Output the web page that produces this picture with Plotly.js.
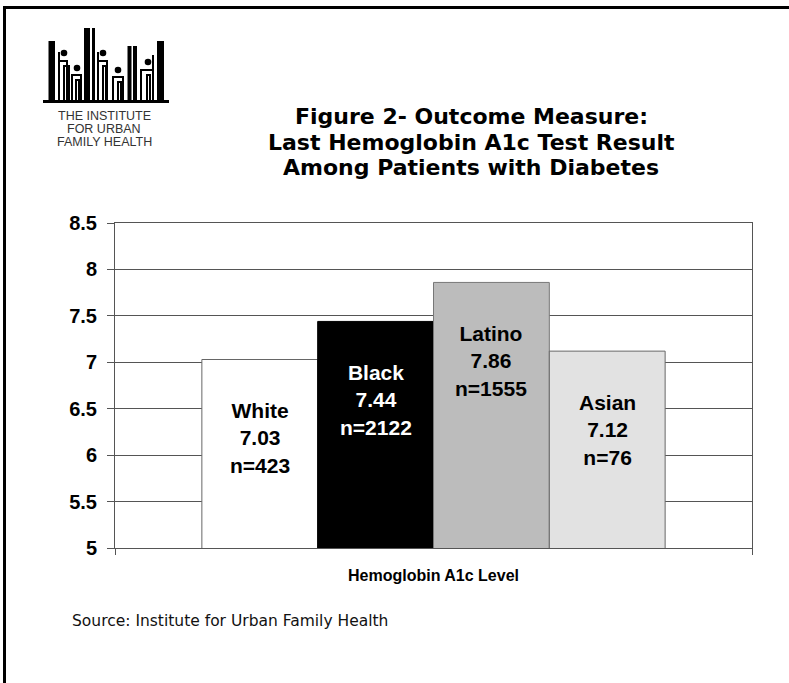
<!DOCTYPE html>
<html>
<head>
<meta charset="utf-8">
<script src="https://cdn.plot.ly/plotly-3.0.1.min.js"></script>
<style>
html,body{margin:0;padding:0;background:#fff;overflow:hidden;width:789px;height:683px;}
#wrap{position:relative;width:789px;height:683px;overflow:hidden;}
#chart{position:absolute;left:0;top:0;width:789px;height:683px;}
#bt{position:absolute;left:3px;top:6px;width:800px;height:3px;background:#000;z-index:5;}
#bl{position:absolute;left:3px;top:6px;width:3px;height:700px;background:#000;z-index:5;}
</style>
</head>
<body>
<div id="wrap">
<div id="chart"></div>
<div id="bt"></div>
<div id="bl"></div>
</div>
<script>
// ---- data ----
const categories = ['White', 'Black', 'Latino', 'Asian'];
const a1cValues = [7.03, 7.44, 7.86, 7.12];
const sampleSizes = [423, 2122, 1555, 76];
const titleLines = ['Figure 2- Outcome Measure:', 'Last Hemoglobin A1c Test Result', 'Among Patients with Diabetes'];
const xAxisTitle = 'Hemoglobin A1c Level';
const sourceText = 'Source: Institute for Urban Family Health';
const logoLines = ['THE INSTITUTE', 'FOR URBAN', 'FAMILY HEALTH'];

// ---- styles ----
const barColors = ['#ffffff', '#000000', '#bcbcbc', '#e2e2e2'];
const barLineColors = ['#666666', '#000000', '#777777', '#666666'];
const labelColors = ['#000000', '#ffffff', '#000000', '#000000'];

// plot area in pixels
const PL = 115, PR = 752, PT = 223, PB = 548;
const X = px => (px - PL) / (PR - PL);
const Y = py => (PB - py) / (PB - PT);

const trace = {
  type: 'bar',
  x: categories,
  y: a1cValues,
  marker: { color: barColors, line: { color: barLineColors, width: 1 } },
  hoverinfo: 'x+y'
};

const annotations = [];
const titleY = [116, 142, 167];
titleLines.forEach((t, i) => annotations.push({
  xref: 'paper', yref: 'paper', x: X(471), y: Y(titleY[i]),
  xanchor: 'center', yanchor: 'middle', showarrow: false, text: t,
  font: { family: 'DejaVu Sans', size: 22, weight: 'bold', color: '#000' }
}));
annotations.push({
  xref: 'paper', yref: 'paper', x: X(70), y: Y(621), xanchor: 'left', yanchor: 'middle',
  showarrow: false, text: sourceText, font: { family: 'DejaVu Sans', size: 15.5, color: '#111' }
});
const logoY = [116, 129, 142];
logoLines.forEach((t, i) => annotations.push({
  xref: 'paper', yref: 'paper', x: X(104), y: Y(logoY[i]), xanchor: 'center', yanchor: 'middle',
  showarrow: false, text: t, font: { family: 'Liberation Sans, Arial', size: 12.5, color: '#333' }
}));
categories.forEach((c, i) => annotations.push({
  xref: 'x', yref: 'y', x: c, y: a1cValues[i] - 0.85, xanchor: 'center', yanchor: 'middle',
  showarrow: false,
  text: c + '<br>' + a1cValues[i].toFixed(2) + '<br>n=' + sampleSizes[i],
  font: { family: 'Liberation Sans, Arial', size: 21, weight: 'bold', color: labelColors[i] }
}));

// shapes: logo drawing
const shapes = [];
function rect(x0, y0, x1, y1) {
  shapes.push({ type: 'rect', xref: 'paper', yref: 'paper', x0: X(x0), x1: X(x1), y0: Y(y0), y1: Y(y1),
    fillcolor: '#000', line: { width: 0 } });
}
function arch(x0, x1, top) {
  shapes.push({ type: 'path', xref: 'paper', yref: 'paper',
    path: `M ${X(x0)},${Y(100)} L ${X(x0)},${Y(top)} L ${X(x1)},${Y(top)} L ${X(x1)},${Y(100)}`,
    line: { color: '#000', width: 2 } });
}
function vline(x, top) {
  shapes.push({ type: 'line', xref: 'paper', yref: 'paper', x0: X(x), x1: X(x), y0: Y(top), y1: Y(100),
    line: { color: '#000', width: 2 } });
}
function dot(cx, cy, r) {
  shapes.push({ type: 'circle', xref: 'paper', yref: 'paper', x0: X(cx - r), x1: X(cx + r), y0: Y(cy + r), y1: Y(cy - r),
    fillcolor: '#000', line: { width: 0 } });
}
rect(43, 100, 169, 103);
rect(48.5, 41, 55, 100);
rect(84, 28, 90, 100);
rect(92, 28, 95, 100);
rect(127.5, 46, 131.5, 100);
rect(133, 46, 137, 100);
rect(157, 41, 164, 100);
vline(59, 52); arch(59, 67, 61); arch(64, 69, 66); dot(64, 53, 3.3);
arch(72, 81, 75); arch(76, 79, 80); dot(77, 68, 3.3);
vline(98, 52); arch(98, 107, 61); arch(103, 106, 66); dot(103, 53, 3.3);
arch(113, 123, 77); arch(118, 121, 82); dot(118, 70, 3.3);
arch(141, 153, 70); arch(147, 150, 75); dot(148, 62, 3.3);
vline(153, 55);

const layout = {
  width: 789, height: 683,
  margin: { l: PL, r: 789 - PR, t: PT, b: 683 - PB, pad: 0 },
  paper_bgcolor: '#fff', plot_bgcolor: '#fff',
  showlegend: false,
  bargap: 0,
  xaxis: {
    type: 'category', range: [-1.25, 4.25],
    showline: true, mirror: true, linecolor: '#555', linewidth: 1,
    showgrid: false, zeroline: false,
    tickmode: 'array', tickvals: [-1.25, 4.25], ticktext: ['', ''],
    ticks: 'outside', ticklen: 6, tickcolor: '#555', showticklabels: false,
    title: { text: xAxisTitle, standoff: 15, font: { family: 'Liberation Sans, Arial', size: 16, weight: 'bold', color: '#000' } },
    automargin: false, fixedrange: true
  },
  yaxis: {
    range: [5, 8.5], tick0: 5, dtick: 0.5,
    showgrid: true, gridcolor: '#555', gridwidth: 1,
    showline: true, mirror: true, linecolor: '#555', linewidth: 1,
    zeroline: false,
    ticks: 'outside', ticklen: 7, tickcolor: '#555', ticklabelstandoff: 6,
    tickfont: { family: 'Liberation Sans, Arial', size: 20, weight: 'bold', color: '#000' },
    automargin: false, fixedrange: true
  },
  annotations: annotations,
  shapes: shapes
};

Plotly.newPlot('chart', [trace], layout, { displayModeBar: false, staticPlot: true });
</script>
</body>
</html>
